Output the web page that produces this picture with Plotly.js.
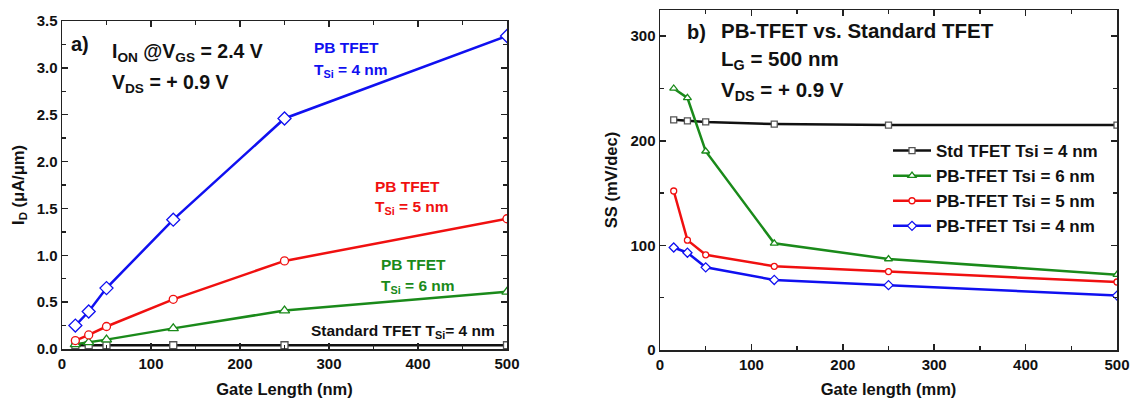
<!DOCTYPE html>
<html><head><meta charset="utf-8">
<script src="https://cdn.plot.ly/plotly-3.0.1.min.js"></script>
<style>html,body{margin:0;padding:0;background:#fff}#c{width:1137px;height:406px}</style>
</head><body><div id="c"></div>
<script>
// Gate lengths (nm)
const gateLength = [15, 30, 50, 125, 250, 500];
// Panel a) ON current (uA/um)
const idPB4 = [0.25, 0.40, 0.65, 1.38, 2.46, 3.34];
const idPB5 = [0.09, 0.15, 0.24, 0.53, 0.94, 1.39];
const idPB6 = [0.05, 0.07, 0.10, 0.22, 0.41, 0.61];
const idStd = [0.04, 0.04, 0.04, 0.04, 0.04, 0.04];
// Panel b) subthreshold swing (mV/dec)
const ssStd = [220, 219, 218, 216, 215, 215];
const ssPB6 = [250, 241, 190, 102, 87, 72];
const ssPB5 = [152, 105, 91, 80, 75, 65];
const ssPB4 = [98, 93, 79, 67, 62, 52];
const legendNames = ['Std TFET Tsi = 4 nm', 'PB-TFET Tsi = 6 nm', 'PB-TFET Tsi = 5 nm', 'PB-TFET Tsi = 4 nm'];

const BLUE = '#1010f0', RED = '#f01010', GREEN = '#1a8a1a', BLACK = '#111111';
const F = 'Liberation Sans, Arial, sans-serif';

function tr(y, color, sym, xa, ya, size, name, show) {
  return {x: gateLength, y: y, xaxis: xa, yaxis: ya, type: 'scatter', mode: 'lines+markers',
    name: name || '', showlegend: !!show,
    line: {color: color, width: 2.5},
    marker: {symbol: sym, size: size, color: '#fff', line: {color: color === BLACK ? '#555' : color, width: 1.3}}};
}
const data = [
  tr(idStd, BLACK, 'square', 'x', 'y', 7),
  tr(idPB6, GREEN, 'triangle-up', 'x', 'y', 9),
  tr(idPB5, RED, 'circle', 'x', 'y', 8),
  tr(idPB4, BLUE, 'diamond', 'x', 'y', 10),
  tr(ssStd, BLACK, 'square', 'x2', 'y2', 6, legendNames[0], true),
  tr(ssPB6, GREEN, 'triangle-up', 'x2', 'y2', 7, legendNames[1], true),
  tr(ssPB5, RED, 'circle', 'x2', 'y2', 6, legendNames[2], true),
  tr(ssPB4, BLUE, 'diamond', 'x2', 'y2', 7, legendNames[3], true)
];

const tickfont = {family: F, size: 15, color: '#111', weight: 700};
function ax(extra) {
  return Object.assign({showline: true, linecolor: '#222', linewidth: 1.5, mirror: 'ticks',
    ticks: 'inside', ticklen: 6, tickwidth: 1.5, tickcolor: '#222', showgrid: false, zeroline: false,
    tickfont: tickfont, fixedrange: true}, extra);
}
const titleFont = {family: F, size: 16.5, color: '#111', weight: 700};

function ann(x, y, text, color, size, xr, yr) {
  return {x: x, y: y, xref: xr || 'x', yref: yr || 'y', text: text, showarrow: false,
    xanchor: 'left', yanchor: 'middle', align: 'left',
    font: {family: F, size: size, color: color, weight: 700}};
}

const layout = {
  width: 1137, height: 406, margin: {l: 0, r: 0, t: 0, b: 0},
  paper_bgcolor: '#fff', plot_bgcolor: '#fff',
  showlegend: true,
  xaxis: ax({domain: [62/1137, 507/1137], range: [0, 500], dtick: 100,
    minor: {dtick: 50, ticklen: 4, tickwidth: 1.5, ticks: 'inside', tickcolor: '#222'},
    title: {text: 'Gate Length (nm)', font: titleFont, standoff: 13}, anchor: 'y'}),
  yaxis: ax({domain: [57/406, 385/406], range: [0, 3.5], dtick: 0.5, tickformat: '.1f',
    minor: {dtick: 0.25, ticklen: 4, tickwidth: 1.5, ticks: 'inside', tickcolor: '#222'},
    title: {text: 'I<sub>D</sub> (μA/μm)', font: titleFont, standoff: 8}, anchor: 'x'}),
  xaxis2: ax({domain: [660/1137, 1117/1137], range: [0, 500], dtick: 100,
    minor: {dtick: 50, ticklen: 4, tickwidth: 1.5, ticks: 'inside', tickcolor: '#222'},
    title: {text: 'Gate length (mm)', font: titleFont, standoff: 12}, anchor: 'y2'}),
  yaxis2: ax({domain: [56/406, 396/406], range: [0, 325], dtick: 100,
    minor: {dtick: 50, ticklen: 4, tickwidth: 1.5, ticks: 'inside', tickcolor: '#222'},
    title: {text: 'SS (mV/dec)', font: titleFont, standoff: 8}, anchor: 'x2'}),
  legend: {x: 888/1137, y: (406-133)/406, xanchor: 'left', yanchor: 'top',
    bgcolor: 'rgba(0,0,0,0)', tracegroupgap: 0, itemwidth: 38,
    font: {family: F, size: 17, color: '#111', weight: 700}},
  annotations: [
    ann(8, 3.25, 'a)', '#111', 20),
    ann(54, 3.16, 'I<sub>ON</sub> @V<sub>GS</sub> = 2.4 V', '#111', 19.5),
    ann(54, 2.83, 'V<sub>DS</sub> = + 0.9 V', '#111', 19.5),
    ann(281, 3.22, 'PB TFET', BLUE, 15.5),
    ann(281, 2.97, 'T<sub>Si</sub> = 4 nm', BLUE, 15.5),
    ann(349, 1.73, 'PB TFET', RED, 15.5),
    ann(349, 1.51, 'T<sub>Si</sub> = 5 nm', RED, 15.5),
    ann(356, 0.90, 'PB TFET', GREEN, 15.5),
    ann(356, 0.67, 'T<sub>Si</sub> = 6 nm', GREEN, 15.5),
    ann(277, 0.19, 'Standard TFET T<sub>Si</sub>= 4 nm', '#111', 15.5),
    ann(27, 304, 'b)', '#111', 20, 'x2', 'y2'),
    ann(65, 305, 'PB-TFET vs. Standard TFET', '#111', 20.5, 'x2', 'y2'),
    ann(65, 277, 'L<sub>G</sub> = 500 nm', '#111', 20.5, 'x2', 'y2'),
    ann(65, 248, 'V<sub>DS</sub> = + 0.9 V', '#111', 20.5, 'x2', 'y2')
  ]
};
Plotly.newPlot('c', data, layout, {displayModeBar: false, staticPlot: true});
</script></body></html>
